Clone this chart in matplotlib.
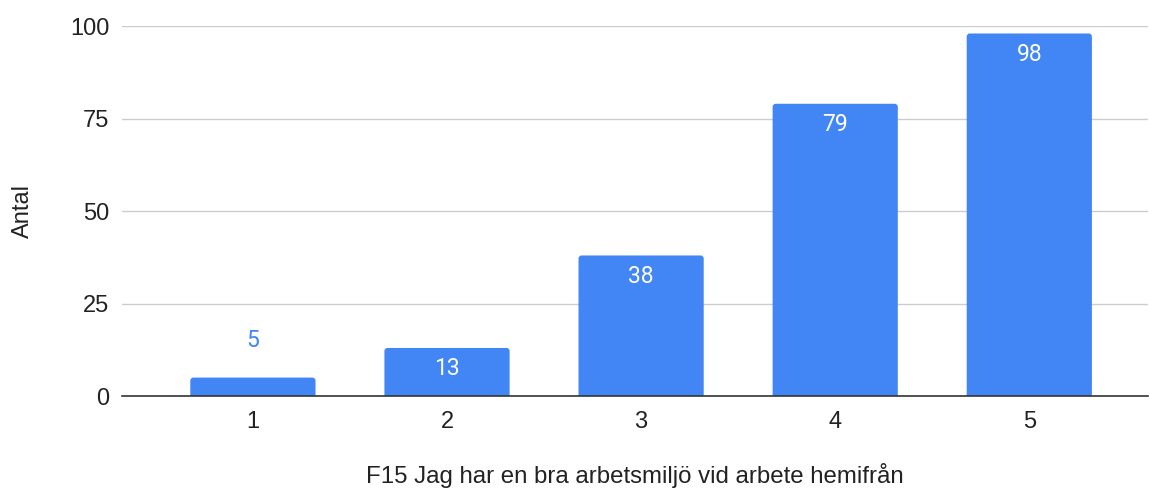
import matplotlib.pyplot as plt
from matplotlib.patches import FancyBboxPatch

plt.rcParams['font.family'] = ['Liberation Sans', 'DejaVu Sans']

categories = ['1', '2', '3', '4', '5']
values = [5, 13, 38, 79, 98]
yticks = [0, 25, 50, 75, 100]

bar_color = '#4285F4'

fig = plt.figure(figsize=(11.5, 4.92), dpi=100)
ax = fig.add_axes([0.106, 0.195, 0.892, 0.752])

xpos = [i + 1 for i in range(len(categories))]
width = 0.645
# bars with slightly rounded corners; start below 0 so the bottom stays square
for x, v in zip(xpos, values):
    patch = FancyBboxPatch((x - width / 2, -3), width, v + 3,
                           boxstyle='round,pad=0,rounding_size=0.016',
                           mutation_aspect=52, facecolor=bar_color,
                           edgecolor='none', zorder=3)
    ax.add_patch(patch)

for x, v in zip(xpos, values):
    if v < 10:
        ax.annotate(str(v), (x, v), xytext=(0, 27), textcoords='offset points',
                    ha='center', va='center', fontsize=16.5, color=bar_color,
                    family=['Roboto', 'DejaVu Sans'])
    else:
        ax.annotate(str(v), (x, v), xytext=(0, -15), textcoords='offset points',
                    ha='center', va='center', fontsize=16.5, color='white',
                    zorder=4, family=['Roboto', 'DejaVu Sans'])

ax.set_xlim(0.325, 5.61)
ax.set_ylim(0, 100)
ax.set_xticks(xpos)
ax.set_xticklabels(categories)
ax.set_yticks(yticks)
ax.grid(axis='y', color='#cccccc', linewidth=1, zorder=0)
for s in ['top', 'right', 'left']:
    ax.spines[s].set_visible(False)
ax.spines['bottom'].set_color('#333333')
ax.spines['bottom'].set_linewidth(1.2)
ax.spines['bottom'].set_zorder(5)
ax.tick_params(axis='both', length=0, labelsize=17, colors='#222222')
ax.tick_params(axis='x', pad=11)
ax.tick_params(axis='y', pad=9)

ax.set_ylabel('Antal', fontsize=17, color='#222222', labelpad=26)
ax.set_xlabel('F15 Jag har en bra arbetsmiljö vid arbete hemifrån', fontsize=17.3,
              color='#222222', labelpad=21)

fig.savefig('out.png', dpi=100)
